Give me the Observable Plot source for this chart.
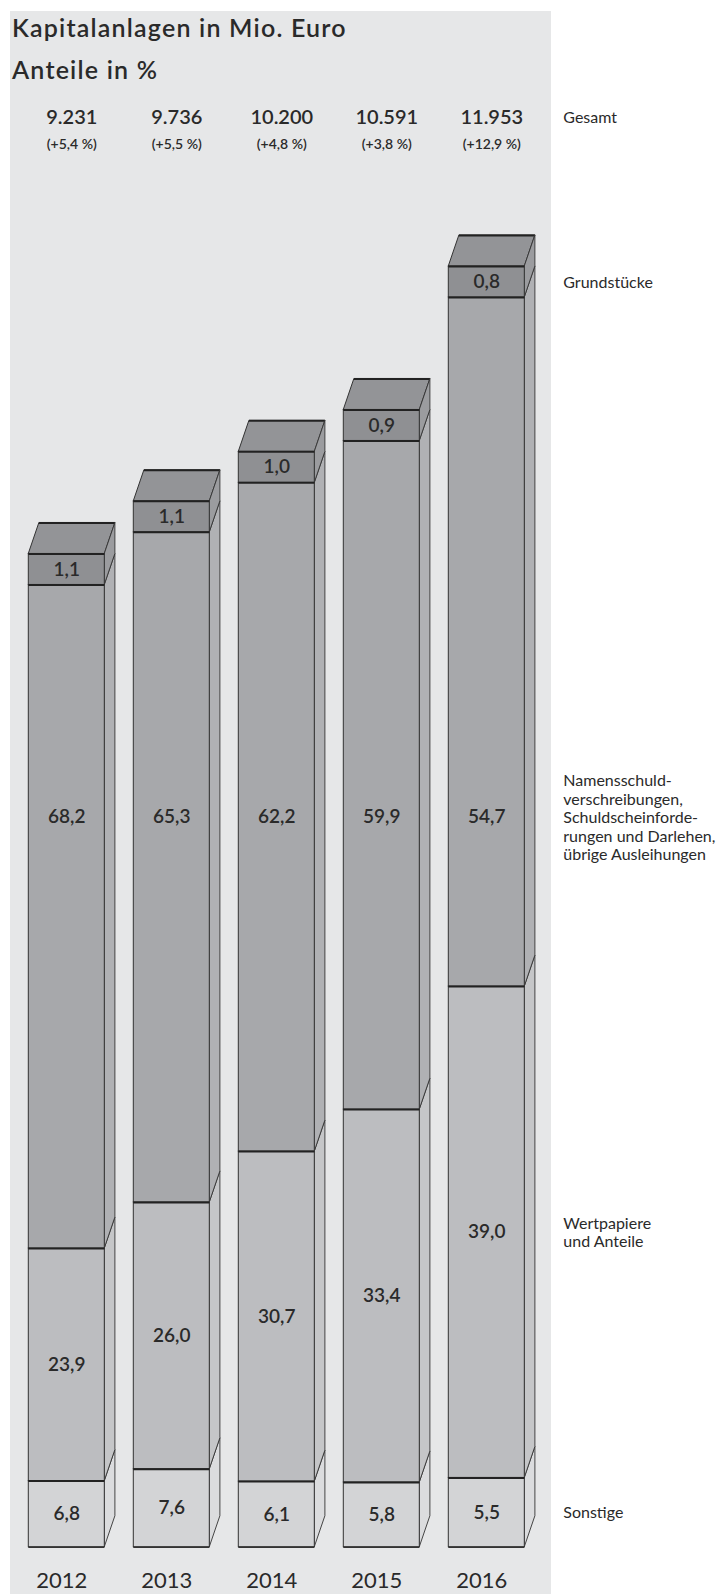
<!DOCTYPE html>
<html><head><meta charset="utf-8">
<script src="https://cdn.jsdelivr.net/npm/d3@7"></script>
<script src="https://cdn.jsdelivr.net/npm/@observablehq/plot@0.6"></script>
<style>
body{margin:0;background:#fff;}
#wrap{position:relative;width:726px;height:1594px;overflow:hidden;font-family:Lato,sans-serif;}
#panel{position:absolute;left:10px;top:11px;width:541px;height:1583px;background:#e6e7e8;}
#title{position:absolute;left:12px;top:6px;font:600 25px/42px Lato,sans-serif;letter-spacing:1.2px;color:#2a2a2a;white-space:nowrap;}
#chart{position:absolute;left:0;top:90px;}
#chart svg{display:block;}
g[aria-label="seg-label"]{letter-spacing:1.5px;}
g[aria-label="growth"]{letter-spacing:0.5px;}
g[aria-label="legend"]{letter-spacing:0.4px;}
</style></head><body>
<div id="wrap"><div id="panel"></div><div id="title">Kapitalanlagen in Mio. Euro<br>Anteile in %</div><div id="chart"></div></div>
<script>
// ---- data ----
const years = ["2012", "2013", "2014", "2015", "2016"];
const totals = [9231, 9736, 10200, 10591, 11953];           // Mio. Euro
const growth = [5.4, 5.5, 4.8, 3.8, 12.9];                   // % vs. Vorjahr
const categories = ["Sonstige", "Wertpapiere", "Namensschuld", "Grundstücke"];
const sonstige = [6.8, 7.6, 6.1, 5.8, 5.5];
const wertpapiere = [23.9, 26.0, 30.7, 33.4, 39.0];
const namensschuld = [68.2, 65.3, 62.2, 59.9, 54.7];
const grundstuecke = [1.1, 1.1, 1.0, 0.9, 0.8];
const legendLabels = {
  Gesamt: "Gesamt",
  Grundstücke: "Grundstücke",
  Namensschuld: "Namensschuld-\nverschreibungen,\nSchuldscheinforde-\nrungen und Darlehen,\nübrige Ausleihungen",
  Wertpapiere: "Wertpapiere\nund Anteile",
  Sonstige: "Sonstige"
};

// ---- layout / style ----
const W = 726, H = 1504;
const mT = 86.5, mB = 47.3, mL = 13.8, mR = 187.2;
const yMax = 13000;
const pxPerUnit = (H - mT - mB) / yMax;
const pxPerSlot = (W - mL - mR) / 5;
const DEPTH_Y = 31 / pxPerUnit;        // 3D depth in data units
const DEPTH_X = 10.6 / pxPerSlot;
const HALF = 38 / pxPerSlot;
const MIN_SEG = 31 / pxPerUnit;        // minimum visible height for a labelled box
const front = {Sonstige: "#d3d4d6", Wertpapiere: "#bcbdc0", Namensschuld: "#a7a8ab", "Grundstücke": "#8f9093"};
const side  = {Sonstige: "#dbdcde", Wertpapiere: "#c5c6c8", Namensschuld: "#b0b1b4", "Grundstücke": "#9b9c9f"};
const topColor = "#939497";
const ink = "#2a2a2a";

const pctBy = {Sonstige: sonstige, Wertpapiere: wertpapiere, Namensschuld: namensschuld, "Grundstücke": grundstuecke};
const fmtDec = v => d3.format(".1f")(v).replace(".", ",");
const fmtInt = v => d3.format(",")(v).replace(/,/g, ".");

const segs = [];
years.forEach((yr, i) => {
  let base = 0;
  categories.forEach(cat => {
    const pct = pctBy[cat][i];
    const v = pct * totals[i] / 100;
    const h = Math.max(v, MIN_SEG);
    segs.push({i, yr, cat, pct, y1: base, y2: base + h, mid: base + h / 2,
               xl: i - HALF, xr: i + HALF});
    base += h;
  });
});
const nAlign = d3.median(segs.filter(d => d.cat === "Namensschuld"), d => d.mid);
segs.forEach(d => d.ly = d.cat === "Namensschuld" ? nAlign : d.mid);

const sideRows = segs.flatMap((d, k) => [
  {key: k, x: d.xr, y1: d.y1, y2: d.y2, c: side[d.cat]},
  {key: k, x: d.xr + DEPTH_X, y1: d.y1 + DEPTH_Y, y2: d.y2 + DEPTH_Y, c: side[d.cat]}
]);
const tops = segs.filter(d => d.cat === "Grundstücke");
const topRows = tops.flatMap(d => [
  {key: d.i, y: d.y2, x1: d.xl, x2: d.xr},
  {key: d.i, y: d.y2 + DEPTH_Y, x1: d.xl + DEPTH_X, x2: d.xr + DEPTH_X}
]);
const last = segs.filter(d => d.i === years.length - 1);
const legendRows = last.map(d => ({label: legendLabels[d.cat], y: d.ly}));

const chart = Plot.plot({
  width: W, height: H,
  marginTop: mT, marginBottom: mB, marginLeft: mL, marginRight: mR,
  x: {domain: [-0.5, 4.5], axis: null},
  y: {domain: [0, yMax], axis: null},
  color: {type: "identity"},
  style: {fontFamily: "Lato, sans-serif", background: "transparent", overflow: "visible"},
  marks: [
    // top faces
    Plot.area(topRows, {x1: "x1", x2: "x2", y1: "y", z: "key", fill: topColor, stroke: "#333", strokeWidth: 1}),
    Plot.ruleY(tops, {y: d => d.y2 + DEPTH_Y, x1: d => d.xl + DEPTH_X, x2: d => d.xr + DEPTH_X, stroke: "#222", strokeWidth: 2}),
    // side faces
    Plot.area(sideRows, {x1: "x", y1: "y1", y2: "y2", z: "key", fill: "c", stroke: "#333", strokeWidth: 0.9}),
    // front faces
    Plot.rect(segs, {x1: "xl", x2: "xr", y1: "y1", y2: "y2", fill: d => front[d.cat], stroke: "#333", strokeWidth: 1}),
    Plot.ruleY(segs, {y: "y2", x1: "xl", x2: "xr", stroke: "#222", strokeWidth: 2}),
    Plot.ruleY(segs.filter(d => d.y1 === 0), {y: "y1", x1: "xl", x2: "xr", stroke: "#333", strokeWidth: 1.4}),
    // segment labels
    Plot.text(segs, {x: "i", y: "ly", text: d => fmtDec(d.pct), fontSize: 19, fontWeight: 600, fill: ink, ariaLabel: "seg-label"}),
    // totals row
    Plot.text(totals, {x: (d, i) => i, text: d => fmtInt(d), frameAnchor: "top", lineAnchor: "middle", dy: -59, dx: 5, fontSize: 20, fontWeight: 600, fill: ink, ariaLabel: "totals"}),
    Plot.text(growth, {x: (d, i) => i, text: d => `(+${fmtDec(d)} %)`, frameAnchor: "top", lineAnchor: "middle", dy: -32.5, dx: 5, fontSize: 14, fontWeight: 600, fill: ink, ariaLabel: "growth"}),
    // years
    Plot.text(years, {x: (d, i) => i, text: d => d, frameAnchor: "bottom", lineAnchor: "middle", dy: 33.3, dx: -5, fontSize: 22, fill: ink, ariaLabel: "years"}),
    // right-hand legend
    Plot.text([legendLabels.Gesamt], {x: 4.5, text: d => d, frameAnchor: "top", lineAnchor: "middle", dy: -59, dx: 24, textAnchor: "start", fontSize: 16, fill: ink, ariaLabel: "legend"}),
    Plot.text(legendRows, {x: 4.5, y: "y", text: "label", dx: 24, textAnchor: "start", lineAnchor: "middle", lineHeight: 1.15, fontSize: 16, fill: ink, ariaLabel: "legend"})
  ]
});
document.getElementById("chart").appendChild(chart);
</script>
</body></html>
